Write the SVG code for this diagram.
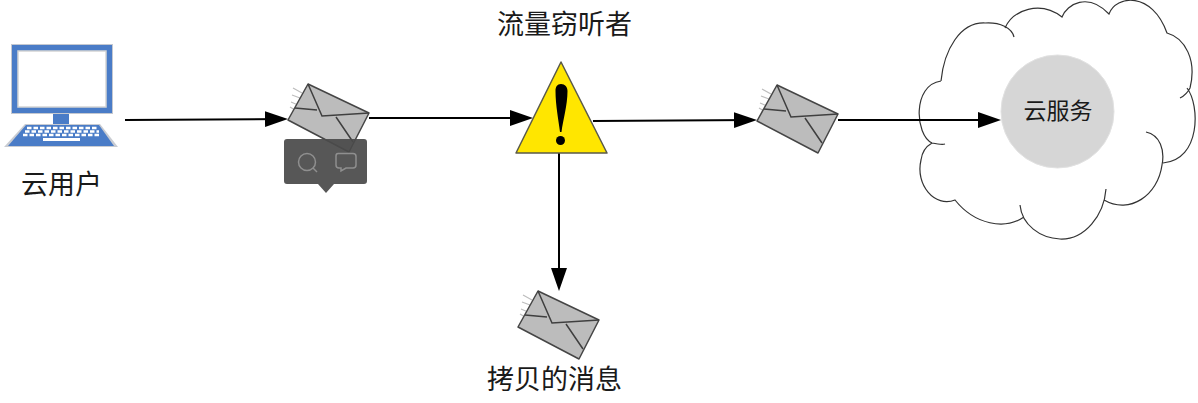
<svg xmlns="http://www.w3.org/2000/svg" width="1198" height="403" viewBox="0 0 1198 403">
<style>
.t{font-family:"Noto Sans CJK SC","Liberation Sans",sans-serif;font-size:27px;fill:#1a1a1a;text-anchor:middle}
.c{fill:none;stroke:#000;stroke-width:2}
.env{fill:#bcbcbc;stroke:#454545;stroke-width:1.500;stroke-linejoin:round}
.fold{fill:none;stroke:#3f3f3f;stroke-width:1.500}
.wh{stroke:#bdbdbd;stroke-width:1.200;fill:none}
.key{fill:#fff}
</style>
<defs>
<marker id="arr" markerUnits="userSpaceOnUse" markerWidth="24" markerHeight="18" refX="20" refY="8" orient="auto">
<path d="M0,0L23,8L0,16Z" fill="#000"/>
</marker>
<g id="envelope">
<path class="wh" d="M-15,4L-6,9M-16,11L-8,14M-17,18L-10,21M-18,23L-13,26"/>
<path class="env" d="M0,0L61,29L41,68L-20,36Z"/>
<path class="fold" d="M0,0L14,32L61,29M-13,24L9,26M28,33L45,58"/>
</g>
</defs>

<g id="user">
<rect x="12" y="45" width="100" height="68" fill="#fff" stroke="#c4c8d0" stroke-width="2"/>
<rect x="15" y="48" width="94" height="62" fill="#fff" stroke="#4a7cc7" stroke-width="6"/>
<rect x="18" y="51" width="88" height="56" fill="#fff" stroke="#d4d4d4" stroke-width="1.500"/>
<rect x="53" y="114" width="16" height="10" fill="#4a7cc7"/>
<path d="M25,124H100L118,147H4Z" fill="#c9ccd2"/>
<path d="M26,125H99L114,146H8Z" fill="#4a7cc7"/>
<path d="M27,128H98M25,131.500H99" stroke="#fff" stroke-width="2.500" stroke-dasharray="4.500 2" fill="none"/>
<path d="M23,135H101" stroke="#fff" stroke-width="2.500" stroke-dasharray="4.500 2" fill="none"/>
<rect x="43" y="138" width="37" height="3" class="key"/>
<text class="t" x="61.500" y="194">云用户</text>
</g>

<g id="cloud">
<path fill="#fff" d="M941,81C944,50 960,22 985,23C995,23 1003,26 1005,28C1013,10 1040,0 1062,17C1067,4 1088,-8 1109,14C1116,-5 1152,-9 1167,33C1185,38 1197,60 1187,88C1200,105 1201,160 1163,163C1158,195 1130,215 1106,200C1104,215 1085,240 1060,239C1040,238 1027,228 1024,217C1005,230 975,225 955,200C935,208 915,185 921,160C922,152 925,147 932,143C915,135 912,85 941,81Z"/>
<path fill="none" stroke="#333" stroke-width="1.200" d="M941,81C944,50 960,22 985,23C1000,22 1012,28 1014,37M1005,28C1013,10 1040,0 1062,17C1067,4 1088,-8 1109,14C1116,-5 1152,-9 1167,33C1185,38 1197,60 1190,88C1188,92 1184,96 1180,98M1187,88C1200,105 1201,160 1163,163M1146,132C1160,135 1165,150 1162,165C1158,195 1130,215 1104,200M1106,189C1104,215 1085,240 1060,239C1040,238 1022,225 1020,205M1024,217C1005,230 975,225 955,200C935,208 915,185 921,160C922,152 925,147 932,143C937,144 942,145 945,144M932,143C915,135 912,85 941,81"/>
</g>

<g id="service">
<circle cx="1057.500" cy="111.500" r="56.500" fill="#d6d6d6" stroke="#e2e2e2" stroke-width="1"/>
<text class="t" x="1058" y="119" style="font-size:23px">云服务</text>
</g>

<g id="connectors">
<path class="c" marker-end="url(#arr)" d="M125,120L285,119"/>
<path class="c" marker-end="url(#arr)" d="M369,118L530,118"/>
<path class="c" marker-end="url(#arr)" d="M593,121L754,120"/>
<path class="c" marker-end="url(#arr)" d="M838,120L998,120"/>
<path class="c" marker-end="url(#arr)" d="M559,153L559,288"/>
</g>

<g id="msg1"><use href="#envelope" x="308" y="84"/></g>
<g id="msg2"><use href="#envelope" x="777" y="85"/></g>
<g id="msg3"><use href="#envelope" x="538" y="291"/></g>

<g id="eavesdropper">
<path d="M561,62L607,153H516Z" fill="#ffe600" stroke="#5a5a4a" stroke-width="1.500" stroke-linejoin="round"/>
<path d="M561,84C565,84 567.500,87 567.500,91C567.500,105 563,120 561.500,132H560C558.500,120 555.500,105 555.500,91C555.500,87 557,84 561,84Z" fill="#000"/>
<circle cx="560.500" cy="140.500" r="4.500" fill="#000"/>
<text class="t" x="564.500" y="34">流量窃听者</text>
</g>

<g id="toolbar">
<path d="M287,139H364Q367,139 367,142V181Q367,184 364,184H334L326,193L318,184H287Q284,184 284,181V142Q284,139 287,139Z" fill="#4a4a4a" fill-opacity=".93"/>
<circle cx="307" cy="162" r="8.500" fill="none" stroke="#8f8f8f" stroke-width="1.500"/>
<path d="M313,168L317,172" stroke="#8f8f8f" stroke-width="1.500" fill="none"/>
<path d="M338,153.500H353Q356,153.500 356,156.500V165Q356,168 353,168H346L341,171V168H339Q336,168 336,165V156Q336,153.500 338,153.500Z" fill="none" stroke="#8f8f8f" stroke-width="1.500"/>
</g>

<text class="t" x="554.500" y="389" id="copy-label">拷贝的消息</text>
</svg>
